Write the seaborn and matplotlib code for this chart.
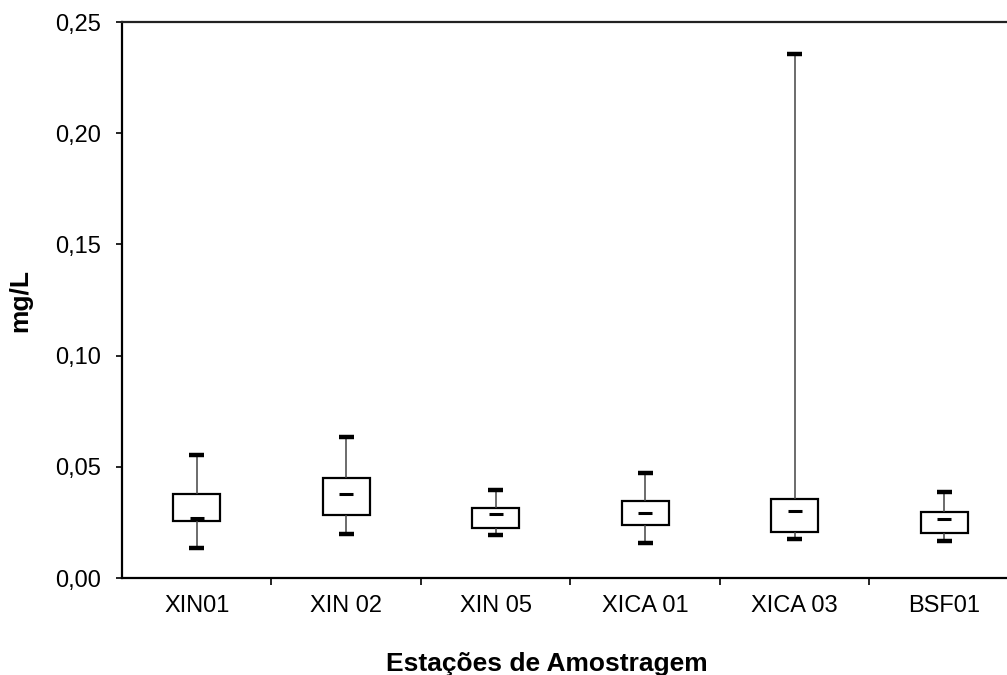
import numpy as np
import pandas as pd
import matplotlib
matplotlib.use("Agg")
import matplotlib.pyplot as plt
import seaborn as sns
from matplotlib.ticker import FuncFormatter, FixedLocator

stations = ["XIN01", "XIN 02", "XIN 05", "XICA 01", "XICA 03", "BSF01"]
mins = [0.0135, 0.0198, 0.0193, 0.0159, 0.0174, 0.0165]
q1s = [0.0255, 0.0285, 0.0223, 0.0240, 0.0208, 0.0204]
medians = [0.0268, 0.0376, 0.0286, 0.0291, 0.0301, 0.0264]
q3s = [0.0378, 0.0450, 0.0313, 0.0345, 0.0354, 0.0298]
maxs = [0.0554, 0.0635, 0.0394, 0.0471, 0.2356, 0.0385]
yticks = [0.00, 0.05, 0.10, 0.15, 0.20, 0.25]

rows = []
for s, a, b, c, d, e in zip(stations, mins, q1s, medians, q3s, maxs):
    for v in (a, b, c, d, e):
        rows.append({"station": s, "value": v})
df = pd.DataFrame(rows)

sns.set_theme(style="white")
plt.rcParams["font.family"] = ["Liberation Sans", "DejaVu Sans"]

fig = plt.figure(figsize=(10.07, 6.75), dpi=100)
ax = fig.add_axes([0.1211, 0.1437, 0.8908, 0.8237])

sns.boxplot(data=df, x="station", y="value", order=stations, whis=(0, 100),
            width=0.315, color="white", linecolor="black", linewidth=1.5,
            showfliers=False, ax=ax,
            boxprops=dict(edgecolor="black", linewidth=1.6),
            whiskerprops=dict(color="#444444", linewidth=1.1),
            capprops=dict(color="black", linewidth=3.2),
            medianprops=dict(color="black", linewidth=2.2))

# shorten caps and medians
for line in ax.lines:
    x, y = line.get_data()
    x = np.asarray(x, dtype=float); y = np.asarray(y, dtype=float)
    if len(x) == 2 and y[0] == y[1]:
        c = x.mean()
        half = 0.05 if line.get_linewidth() > 3 else 0.046
        line.set_xdata([c - half, c + half])
        line.set_solid_capstyle("butt")

ax.set_xlim(-0.5, 5.5)
ax.set_ylim(0, 0.25)
ax.yaxis.set_major_locator(FixedLocator(yticks))
ax.yaxis.set_major_formatter(FuncFormatter(lambda v, p: f"{v:.2f}".replace(".", ",")))
ax.xaxis.set_minor_locator(FixedLocator([0.5, 1.5, 2.5, 3.5, 4.5]))

ax.tick_params(axis="y", which="major", direction="out", length=4, width=1.2,
               color="black", labelsize=17, pad=11, left=True, labelcolor="black")
ax.tick_params(axis="x", which="major", length=0, labelsize=17, pad=12.5, labelcolor="black")
ax.tick_params(axis="x", which="minor", direction="out", length=5, width=1.2,
               color="black", bottom=True)

for side in ["left", "bottom"]:
    ax.spines[side].set_color("black")
    ax.spines[side].set_linewidth(1.6)
ax.spines["top"].set_color("#222222")
ax.spines["top"].set_linewidth(1.6)
ax.spines["right"].set_visible(False)

ax.set_xlabel("Estações de Amostragem", fontsize=19, fontweight="bold", color="black")
ax.set_ylabel("mg/L", fontsize=19, fontweight="bold", color="black")
ax.xaxis.label.set_va("center")
ax.xaxis.set_label_coords(0.474, -0.154)
ax.yaxis.label.set_va("center")
ax.yaxis.set_label_coords(-0.113, 0.5)

fig.savefig("out.png", dpi=100)
